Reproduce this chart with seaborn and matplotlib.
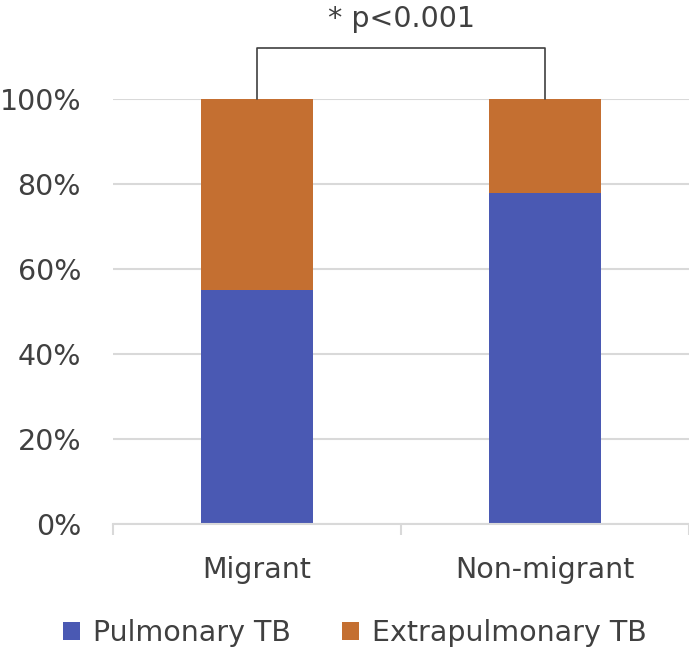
import matplotlib
matplotlib.use("Agg")
import matplotlib.pyplot as plt
import seaborn as sns
import pandas as pd
from matplotlib.patches import Patch

categories = ["Migrant", "Non-migrant"]
pulmonary = [55, 78]
extrapulmonary = [45, 22]
series_names = ["Pulmonary TB", "Extrapulmonary TB"]
y_ticks = [0, 20, 40, 60, 80, 100]
annotation = "* p<0.001"

blue = "#4A59B3"
orange = "#C46F31"
text_color = "#404040"
grid_color = "#D9D9D9"

sns.set_style("white")
plt.rcParams['font.family'] = ['DejaVu Sans']

df = pd.DataFrame({
    "cat": categories,
    "pul": pulmonary,
    "total": [p + e for p, e in zip(pulmonary, extrapulmonary)],
})

fig = plt.figure(figsize=(6.89, 6.53), dpi=100)
ax = fig.add_axes([113/689, 1 - 524/653, 576/689, (524 - 99)/653])

sns.barplot(data=df, x="cat", y="total", order=categories, color=orange,
            width=0.39, saturation=1, linewidth=0, ax=ax, zorder=2)
sns.barplot(data=df, x="cat", y="pul", order=categories, color=blue,
            width=0.39, saturation=1, linewidth=0, ax=ax, zorder=3)

ax.set_xlim(-0.5, 1.5)
ax.set_ylim(0, 100)
ax.set_yticks(y_ticks)
ax.set_yticklabels([f"{v}%" for v in y_ticks])
ax.set_xlabel("")
ax.set_ylabel("")

for s in ["top", "right", "left"]:
    ax.spines[s].set_visible(False)
ax.spines["bottom"].set_color(grid_color)
ax.spines["bottom"].set_linewidth(1.5)
ax.spines["bottom"].set_zorder(4)

ax.yaxis.grid(True, color=grid_color, linewidth=1.5, zorder=0)
ax.set_axisbelow(True)

ax.tick_params(axis="y", length=0, pad=23, labelsize=20.5, labelcolor=text_color)
ax.tick_params(axis="x", which="major", length=0, pad=23, labelsize=20.5, labelcolor=text_color)
ax.set_xticks([-0.5, 0.5, 1.5], minor=True)
ax.tick_params(axis="x", which="minor", bottom=True, length=8, width=1.5,
               color=grid_color, direction="out")

# significance bracket
ax.plot([0, 0, 1, 1], [100, 112, 112, 100], color=text_color, linewidth=1.2,
        clip_on=False, zorder=5)
ax.text(0.5, 118.8, annotation, ha="center", va="center", fontsize=20.5,
        color=text_color, clip_on=False)

handles = [Patch(facecolor=blue, edgecolor="none"), Patch(facecolor=orange, edgecolor="none")]
fig.legend(handles, series_names, loc="center", bbox_to_anchor=(0.515, 1 - 633/653),
           ncol=2, frameon=False, fontsize=20.5, labelcolor=text_color,
           handlelength=0.6, handleheight=0.6, handletextpad=0.45, columnspacing=1.8)

fig.savefig("out.png", dpi=100)
